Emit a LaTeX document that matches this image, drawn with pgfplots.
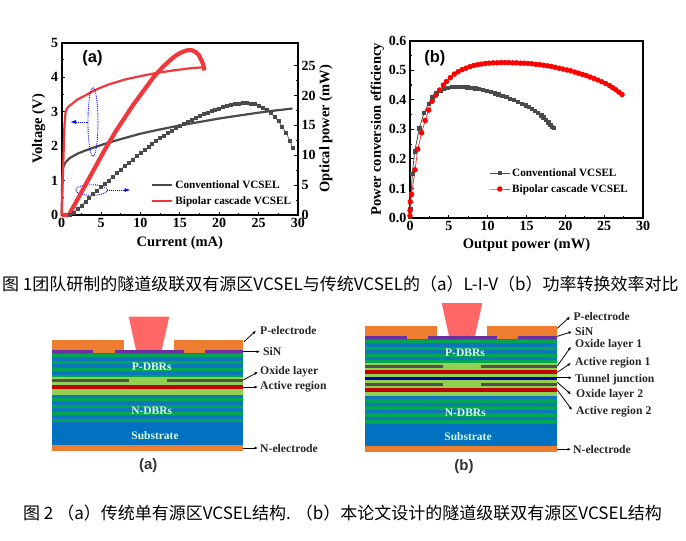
\documentclass[border=0pt]{standalone}
\usepackage{fontspec}
\setmainfont{Liberation Serif}
\newfontfamily\sansb{Liberation Sans}
\newfontfamily\cjk{Noto Sans CJK SC}
\usepackage{pgfplots}
\pgfplotsset{compat=1.18}
\usetikzlibrary{arrows.meta}
\definecolor{cgrey}{HTML}{4A4A4A}
\definecolor{cred}{HTML}{F0373C}
\definecolor{morange}{HTML}{ED7D31}
\definecolor{mpurple}{HTML}{6A2FA0}
\definecolor{mgreen}{HTML}{00A651}
\definecolor{mblue}{HTML}{0F75BC}
\definecolor{msub}{HTML}{0070C0}
\definecolor{mlight}{HTML}{92D050}
\definecolor{mred}{HTML}{C00000}
\definecolor{mdark}{HTML}{505050}
\definecolor{mbeam}{HTML}{FF6666}
\newcommand{\fs}[1]{\fontsize{#1}{#1}\selectfont}
\pgfplotsset{
  figax/.style={
    scale only axis,
    anchor=south west,
    axis line style={line width=1.6pt,black},
    tick style={line width=1.1pt,black},
    major tick length=3.5pt,
    minor tick length=2pt,
    tick align=inside,
    ticklabel style={font=\fs{14}\bfseries},
    label style={font=\fs{14.5}\bfseries},
    /pgf/number format/assume math mode=true,
    legend style={draw=none,fill=none,inner sep=0pt,font=\fs{11.2}\bfseries,
      row sep=2.6pt,cells={anchor=west}},
    legend image code/.code={
      \draw[mark repeat=2,mark phase=2,##1] plot coordinates {(0pt,0pt)(10pt,0pt)(20pt,0pt)};
    },
  },
}
\begin{document}
\begin{tikzpicture}[x=1pt,y=1pt]
\path[use as bounding box] (0,0) rectangle (686,-541);

% ---- panel (a) voltage
\begin{axis}[figax,at={(61.7pt,-215pt)},width=236.3pt,height=172.3pt,
  xmin=0,xmax=30,ymin=0,ymax=5,
  xtick={0,5,...,30},ytick={0,1,...,5},
  minor x tick num=1,minor y tick num=1,
  xtick pos=bottom,ytick pos=left,
  xlabel={Current (mA)},ylabel={Voltage (V)},
  xlabel style={yshift=-1.5pt},ylabel style={yshift=-1pt},
  legend style={at={(0.378,0.042)},anchor=south west},
  clip=false]
\addplot[cgrey,line width=2.2pt] coordinates {
 (0,0)(0.05,0.9)(0.15,1.35)(0.3,1.45)(0.5,1.53)(1,1.65)(2,1.78)(3,1.87)(5,2.03)(7,2.17)(10,2.36)
 (12,2.46)(15,2.6)(18,2.72)(20,2.8)(22,2.87)(25,2.97)(27,3.03)(29.3,3.09)};
\addplot[cred,line width=2.2pt] coordinates {
 (0,0)(0.2,1.5)(0.35,2.6)(0.5,3.0)(0.7,3.1)(1,3.17)(2,3.35)(3,3.47)(4,3.6)(5,3.7)(6,3.79)(8,3.93)
 (10,4.03)(12,4.12)(14,4.19)(16,4.25)(18,4.29)};
\legend{Conventional VCSEL,Bipolar cascade VCSEL}
\draw[blue,densely dotted,line width=0.9pt] (axis cs:3.97,2.7) ellipse [x radius=5pt,y radius=34.4pt];
\draw[blue,densely dotted,line width=0.9pt] (axis cs:3.8,0.725) ellipse [x radius=16pt,y radius=5.3pt];
\draw[blue,densely dotted,line width=0.9pt,-{Latex[length=6pt,width=4pt]}] (axis cs:3.38,2.7) -- (axis cs:1.06,2.7);
\draw[blue,densely dotted,line width=0.9pt,-{Latex[length=6pt,width=4pt]}] (axis cs:5.8,0.725) -- (axis cs:8.75,0.725);
\node[font=\sansb\fs{16.5}\bfseries] at (axis cs:3.9,4.55) {(a)};
\end{axis}

% ---- panel (a) optical power
\begin{axis}[figax,at={(61.7pt,-215pt)},width=236.3pt,height=172.3pt,
  xmin=0,xmax=30,ymin=0,ymax=28.85,
  axis x line=none,
  axis y line*=right,
  ytick={0,5,...,25},minor y tick num=1,
  ylabel={Optical power (mW)},
  ylabel style={yshift=3pt},
  clip=false]
\addplot[cgrey,line width=0.6pt,mark=square*,mark size=1.5pt] coordinates {
 (1,0)(1.5,0.4)(2,1.0)(2.5,1.6)(3,2.2)(3.5,2.85)(4,3.5)(4.5,4.1)(5,4.7)(5.5,5.2)(6,5.8)(6.5,6.4)
 (7,7.0)(7.5,7.6)(8,8.2)(8.5,8.75)(9,9.3)(9.5,9.85)(10,10.4)(10.5,10.9)(11,11.4)(11.5,11.9)(12,12.4)
 (12.5,12.85)(13,13.3)(13.5,13.75)(14,14.15)(14.5,14.55)(15,14.95)(15.5,15.3)(16,15.65)(16.5,16)
 (17,16.3)(17.5,16.6)(18,16.9)(18.5,17.15)(19,17.4)(19.5,17.65)(20,17.85)(20.5,18.05)(21,18.25)
 (21.5,18.45)(22,18.6)(22.5,18.7)(23,18.8)(23.5,18.8)(24,18.7)(24.5,18.55)(25,18.35)(25.5,18.0)
 (26,17.6)(26.5,17.1)(27,16.5)(27.5,15.7)(28,14.8)(28.5,13.7)(29,12.4)(29.3,11.3)};
\addplot[cred,line width=4.2pt,line join=round] coordinates {
 (0,0)(0.9,0)(1.5,1.4)(2,2.6)(2.5,3.8)(3,5.0)(3.5,6.2)(4,7.4)(4.5,8.6)(5,9.8)(5.5,11)(6,12.1)(6.5,13.2)
 (7,14.3)(7.5,15.3)(8,16.3)(8.5,17.3)(9,18.3)(9.5,19.2)(10,20.1)(10.5,21)(11,21.9)(11.5,22.8)(12,23.6)
 (12.5,24.3)(13,25)(13.5,25.6)(14,26.2)(14.5,26.7)(15,27.1)(15.5,27.4)(16,27.6)(16.5,27.6)(17,27.3)
 (17.4,26.8)(17.7,26)(18,25.1)(18.1,24.2)};
\end{axis}

% ---- panel (b)
\begin{axis}[figax,at={(410pt,-218pt)},width=233pt,height=177.3pt,
  xmin=0,xmax=30,ymin=0,ymax=0.6,
  xtick={0,5,...,30},ytick={0,0.1,...,0.6},
  yticklabel style={/pgf/number format/.cd,fixed,fixed zerofill,precision=1},
  minor x tick num=1,minor y tick num=1,
  xtick pos=bottom,ytick pos=left,
  xlabel={Output power (mW)},ylabel={Power conversion efficiency},
  xlabel style={yshift=-1pt},ylabel style={yshift=-2pt},
  legend style={at={(0.34,0.125)},anchor=south west},
  clip=false]
\addplot[cgrey,line width=0.8pt,mark=square*,mark size=1.7pt] coordinates {
 (0,0.005)(0.05,0.03)(0.15,0.08)(0.3,0.15)(0.6,0.225)(1.2,0.303)(1.8,0.355)(2.4,0.387)(2.9,0.408)
 (3.4,0.422)(3.9,0.431)(4.4,0.437)(4.9,0.441)(5.4,0.443)(5.9,0.444)(6.4,0.444)(6.9,0.444)(7.4,0.442)
 (7.9,0.44)(8.4,0.438)(8.9,0.436)(9.4,0.433)(9.9,0.43)(10.4,0.426)(10.9,0.422)(11.4,0.418)(11.9,0.414)
 (12.4,0.409)(12.9,0.404)(13.4,0.399)(13.9,0.393)(14.4,0.387)(14.9,0.381)(15.3,0.375)(15.7,0.369)
 (16.1,0.362)(16.5,0.355)(16.9,0.347)(17.2,0.34)(17.5,0.332)(17.8,0.324)(18.1,0.315)(18.3,0.309)(18.5,0.304)};
\addplot[cred,line width=0.8pt,mark=*,mark size=2.3pt,mark options={fill=red,draw=red}] coordinates {
 (0,0.008)(0,0.025)(0.03,0.055)(0.2,0.08)(0.65,0.163)(1.0,0.233)(1.5,0.288)(1.95,0.33)(2.4,0.365)
 (2.85,0.395)(3.3,0.415)(3.8,0.433)(4.3,0.45)(4.7,0.462)(5.2,0.475)(5.7,0.487)(6.2,0.495)(6.7,0.502)
 (7.2,0.507)(7.7,0.512)(8.2,0.516)(8.7,0.519)(9.2,0.521)(9.7,0.523)(10.2,0.524)(10.7,0.525)(11.2,0.525)
 (11.7,0.526)(12.2,0.526)(12.7,0.526)(13.2,0.525)(13.7,0.525)(14.2,0.524)(14.7,0.524)(15.2,0.523)
 (15.7,0.522)(16.2,0.52)(16.7,0.519)(17.2,0.517)(17.7,0.515)(18.2,0.513)(18.7,0.51)(19.2,0.507)(19.7,0.504)
 (20.2,0.501)(20.7,0.498)(21.2,0.494)(21.7,0.49)(22.2,0.486)(22.7,0.482)(23.2,0.477)(23.7,0.472)(24.2,0.467)
 (24.7,0.461)(25.2,0.455)(25.7,0.448)(26.1,0.441)(26.5,0.434)(26.9,0.426)(27.3,0.418)};
\legend{Conventional VCSEL,Bipolar cascade VCSEL}
\node[font=\sansb\fs{16.5}\bfseries] at (axis cs:3.2,0.54) {(b)};
\end{axis}

% ---- captions
\node[anchor=west,inner sep=0pt,font=\cjk\fs{17}] at (2,-284) {图 1团队研制的隧道级联双有源区VCSEL与传统VCSEL的（a）L-I-V（b）功率转换效率对比};
\node[anchor=west,inner sep=0pt,font=\cjk\fs{17}] at (23,-513) {图 2 （a）传统单有源区VCSEL结构. （b）本论文设计的隧道级联双有源区VCSEL结构};

% ---- structure sketches (not data)
\begin{scope}[x=1pt,y=-1pt]
  % (a)
  \fill[mbeam] (128.7,316.7) -- (169.3,316.7) -- (161.7,350) -- (136,350) -- cycle;
  \fill[morange] (52,340) rectangle (124,349.5);
  \fill[morange] (174,340) rectangle (243.3,349.5);
  \fill[morange] (93.3,349) rectangle (115,353);
  \fill[morange] (184,349) rectangle (205,353);
  \fill[mpurple] (52,349.5) rectangle (93.3,353);
  \fill[mpurple] (115,349.5) rectangle (184,353);
  \fill[mpurple] (205,349.5) rectangle (243.3,353);
  \fill[mblue] (52,353) rectangle (243.3,377);
  \foreach \yy in {353,360,367,374}
    \fill[mgreen] (52,\yy) ++(0,0.5) rectangle ++(191.3,3.5);
  \fill[mlight] (52,376.7) rectangle (243.3,384.7);
  \fill[mdark] (52,378.6) rectangle (129.3,381.6);
  \fill[mdark] (167.3,378.6) rectangle (243.3,381.6);
  \fill[mred] (52,384.7) rectangle (243.3,388.7);
  \fill[mlight] (52,388.7) rectangle (243.3,395);
  \fill[mblue] (52,395) rectangle (243.3,423.3);
  \foreach \yy in {397,404,411,418}
    \fill[mgreen] (52,\yy) ++(0,0.5) rectangle ++(191.3,3.5);
  \fill[msub] (52,423.3) rectangle (243.3,445);
  \fill[morange] (52,445) rectangle (243.3,451);
  \begin{scope}[font=\fs{11.5}\bfseries,text=white!85!green]
    \node at (151.7,367) {P-DBRs};
    \node at (151.7,411) {N-DBRs};
    \node at (155,435.7) {Substrate};
  \end{scope}
  \node[font=\sansb\fs{15}\bfseries,text=black!80] at (148.3,466) {(a)};
  \begin{scope}[font=\fs{11.7}\bfseries,text=black!85]
    \node[anchor=west,inner sep=0pt] at (260,330.7) {P-electrode};
    \node[anchor=west,inner sep=0pt] at (263,351.7) {SiN};
    \node[anchor=west,inner sep=0pt] at (260,372) {Oxide layer};
    \node[anchor=west,inner sep=0pt] at (260,387) {Active region};
    \node[anchor=west,inner sep=0pt] at (260,448) {N-electrode};
  \end{scope}
  \begin{scope}[line width=0.8pt,-{Latex[length=3.5pt,width=3pt]}]
    \draw (244,341.7) -- (256,330.7);
    \draw (243.3,351.7) -- (260,351.7);
    \draw (243.3,380) -- (258,372);
    \draw (243.3,387) -- (258,387);
    \draw (243.3,448) -- (258,448);
  \end{scope}

  % (b)
  \fill[mbeam] (441.7,303) -- (482.3,303) -- (475,336) -- (449,336) -- cycle;
  \fill[morange] (365,326) rectangle (436.7,335.7);
  \fill[morange] (487.3,326) rectangle (557.3,335.7);
  \fill[morange] (406.7,335) rectangle (427.7,339.3);
  \fill[morange] (496.7,335) rectangle (518.3,339.3);
  \fill[mpurple] (365,335.7) rectangle (406.7,339.3);
  \fill[mpurple] (427.7,335.7) rectangle (496.7,339.3);
  \fill[mpurple] (518.3,335.7) rectangle (557.3,339.3);
  \fill[mblue] (365,339.3) rectangle (557.3,363);
  \foreach \yy in {339.5,346.5,353.5,360}
    \fill[mgreen] (365,\yy) ++(0,0) rectangle ++(192.3,3.5);
  \fill[mlight] (365,363) rectangle (557.3,371);
  \fill[mdark] (365,365) rectangle (442.7,367.7);
  \fill[mdark] (480.7,365) rectangle (557.3,367.7);
  \fill[mred] (365,370.3) rectangle (557.3,374.3);
  \fill[mlight] (365,374.3) rectangle (557.3,388.3);
  \fill[blue!70!black] (365,377.3) rectangle (557.3,379.7);
  \fill[mdark] (365,383) rectangle (442.7,386);
  \fill[mdark] (480.7,383) rectangle (557.3,386);
  \fill[mred] (365,388.3) rectangle (557.3,392);
  \fill[mlight] (365,392) rectangle (557.3,395.7);
  \fill[mblue] (365,395.7) rectangle (557.3,424.3);
  \foreach \yy in {399,406,413,420}
    \fill[mgreen] (365,\yy) ++(0,0) rectangle ++(192.3,3.5);
  \fill[msub] (365,424.3) rectangle (557.3,446);
  \fill[morange] (365,446) rectangle (557.3,451.7);
  \begin{scope}[font=\fs{11.5}\bfseries,text=white!85!green]
    \node at (465,353) {P-DBRs};
    \node at (465.3,412.3) {N-DBRs};
    \node at (468,436.7) {Substrate};
  \end{scope}
  \node[font=\sansb\fs{15}\bfseries,text=black!80] at (464,467) {(b)};
  \begin{scope}[font=\fs{11.7}\bfseries,text=black!85]
    \node[anchor=west,inner sep=0pt] at (573.3,316.7) {P-electrode};
    \node[anchor=west,inner sep=0pt] at (575,331.7) {SiN};
    \node[anchor=west,inner sep=0pt] at (575,345) {Oxide layer 1};
    \node[anchor=west,inner sep=0pt] at (575,362.3) {Active region 1};
    \node[anchor=west,inner sep=0pt] at (575,379.3) {Tunnel junction};
    \node[anchor=west,inner sep=0pt] at (576,395) {Oxide layer 2};
    \node[anchor=west,inner sep=0pt] at (576,411.7) {Active region 2};
    \node[anchor=west,inner sep=0pt] at (573,449.3) {N-electrode};
  \end{scope}
  \begin{scope}[line width=0.8pt,-{Latex[length=3.5pt,width=3pt]}]
    \draw (557.3,328.3) -- (570,316.7);
    \draw (557.3,336.3) -- (572,331.7);
    \draw (557.3,366) -- (571,346.7);
    \draw (557.3,372.3) -- (571,363);
    \draw (557.3,377.7) -- (572,377.7);
    \draw (557.3,382.3) -- (571,394.3);
    \draw (557.3,390) -- (572,410);
    \draw (557.3,449.3) -- (571,449.3);
  \end{scope}
\end{scope}
\end{tikzpicture}
\end{document}
